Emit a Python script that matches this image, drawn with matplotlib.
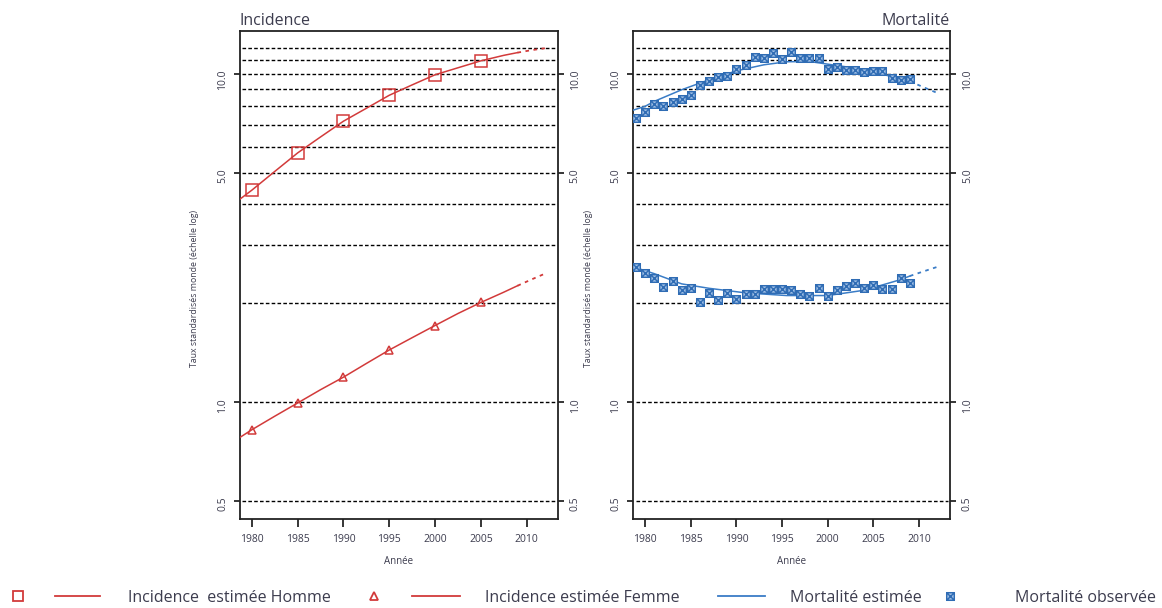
import matplotlib
matplotlib.use('Agg')
import matplotlib.pyplot as plt
from matplotlib.lines import Line2D
from matplotlib.legend_handler import HandlerTuple
from matplotlib.path import Path
from matplotlib.ticker import NullLocator

plt.rcParams['font.family'] = ['Open Sans', 'DejaVu Sans']

# ---- data ----
# incidence, estimated curve (solid part)
inc_years = [1978.7, 1980, 1982.5, 1985, 1987.5, 1990, 1992.5, 1995, 1997.5, 2000, 2002.5, 2005, 2007.5, 2009]
inc_homme = [4.15, 4.42, 5.04, 5.74, 6.42, 7.17, 7.85, 8.60, 9.25, 9.93, 10.43, 10.95, 11.38, 11.6]
inc_femme = [0.78, 0.823, 0.905, 0.993, 1.09, 1.19, 1.31, 1.44, 1.57, 1.71, 1.86, 2.01, 2.16, 2.26]
# incidence, projection (dotted part)
proj_years = [2009, 2010.5, 2012]
proj_homme = [11.6, 11.8, 11.96]
proj_femme = [2.26, 2.36, 2.46]
# markers every 5 years
mark_years = [1980, 1985, 1990, 1995, 2000, 2005]
mark_homme = [4.42, 5.74, 7.17, 8.60, 9.93, 10.95]
mark_femme = [0.823, 0.993, 1.19, 1.44, 1.71, 2.01]

# mortality, observed
obs_years = list(range(1979, 2010))
obs_homme = [7.34, 7.65, 8.11, 8.0, 8.21, 8.4, 8.63, 9.26, 9.48, 9.77, 9.88, 10.33, 10.65,
             11.28, 11.2, 11.55, 11.1, 11.68, 11.2, 11.2, 11.16, 10.35, 10.48, 10.28, 10.28,
             10.16, 10.21, 10.21, 9.70, 9.59, 9.64]
obs_femme = [2.57, 2.48, 2.39, 2.24, 2.34, 2.19, 2.23, 2.01, 2.15, 2.05, 2.15, 2.06, 2.14,
             2.14, 2.21, 2.21, 2.21, 2.20, 2.13, 2.11, 2.23, 2.11, 2.20, 2.26, 2.31,
             2.23, 2.28, 2.21, 2.21, 2.39, 2.30]
# mortality, estimated
mest_years_h = [1978.7, 1980, 1981, 1984, 1987, 1990, 1993, 1995.5, 1998, 2002, 2005.5, 2009]
mest_homme = [7.75, 7.96, 8.24, 8.94, 9.59, 10.21, 10.65, 10.88, 10.9, 10.5, 10.05, 9.48]
mest_years_f = [1978.7, 1981, 1984, 1987, 1991, 1995.5, 2000, 2004, 2008, 2009]
mest_femme = [2.58, 2.46, 2.29, 2.22, 2.15, 2.11, 2.11, 2.19, 2.36, 2.42]
mproj_years = [2009, 2010.5, 2012]
mproj_homme = [9.48, 9.1, 8.74]
mproj_femme = [2.42, 2.5, 2.58]

grid_levels = [0.5, 1, 2, 3, 4, 5, 6, 7, 8, 9, 10, 11, 12]
ytick_vals = [0.5, 1, 5, 10]
ytick_labels = ['0.5', '1.0', '5.0', '10.0']
xtick_vals = [1980, 1985, 1990, 1995, 2000, 2005, 2010]

red = '#d23a3a'
blue = '#3a7cc6'
txt = '#3c3c4e'
dots = (0, (2.0, 2.5))

# square with a cross, like R pch 7
box_x = Path([(-0.5, -0.5), (0.5, -0.5), (0.5, 0.5), (-0.5, 0.5), (-0.5, -0.5),
              (-0.5, -0.5), (0.5, 0.5), (-0.5, 0.5), (0.5, -0.5)],
             [Path.MOVETO, Path.LINETO, Path.LINETO, Path.LINETO, Path.CLOSEPOLY,
              Path.MOVETO, Path.LINETO, Path.MOVETO, Path.LINETO])
obs_style = dict(marker=box_x, markersize=5.5, markeredgecolor='#2f6cb4',
                 markerfacecolor='#9dbde4', markeredgewidth=1.0, linestyle='none')

fig = plt.figure(figsize=(11.62, 6.08), dpi=100)
ax1 = fig.add_axes([0.2065, 0.1464, 0.2735, 0.8026])
ax2 = fig.add_axes([0.545, 0.1464, 0.2726, 0.8026])


def style_axes(ax):
    ax.set_yscale('log')
    ax.set_ylim(0.44, 13.5)
    ax.set_xlim(1978.7, 2013.4)
    for lv in grid_levels:
        ax.axhline(lv, xmin=0.008, xmax=0.992, color='black', lw=1.0,
                   linestyle=(0, (2.6, 1.6)), zorder=1)
    ax.set_yticks(ytick_vals)
    ax.set_yticklabels(ytick_labels)
    ax.yaxis.set_minor_locator(NullLocator())
    ax.set_xticks(xtick_vals)
    ax.tick_params(axis='y', which='both', left=True, right=True, labelleft=True,
                   labelright=True, labelrotation=90, length=4.5, width=1.1,
                   pad=4, labelsize=7.5, labelcolor=txt)
    ax.tick_params(axis='x', length=5.5, width=1.1, pad=5, labelsize=7.5, labelcolor=txt)
    for s in ax.spines.values():
        s.set_linewidth(1.3)
        s.set_color('#222222')
    ax.set_xlabel('Année', fontsize=7, color=txt, labelpad=8)
    ax.set_ylabel('Taux standardisés monde (échelle log)', fontsize=6.3, color=txt)
    ax.yaxis.set_label_coords(-0.128, 0.473)


style_axes(ax1)
style_axes(ax2)

# incidence panel
ax1.plot(inc_years, inc_homme, color=red, lw=1.1, zorder=3)
ax1.plot(proj_years, proj_homme, color=red, lw=1.3, linestyle=dots, zorder=3)
ax1.plot(inc_years, inc_femme, color=red, lw=1.1, zorder=3)
ax1.plot(proj_years, proj_femme, color=red, lw=1.3, linestyle=dots, zorder=3)
ax1.plot(mark_years, mark_homme, linestyle='none', marker='s', markersize=8,
         markerfacecolor='none', markeredgecolor=red, markeredgewidth=1.1, zorder=4)
ax1.plot(mark_years, mark_femme, linestyle='none', marker='^', markersize=6,
         markerfacecolor='none', markeredgecolor=red, markeredgewidth=1.1, zorder=4)
ax1.set_title('Incidence', loc='left', fontsize=11.5, color=txt, pad=4)

# mortality panel
ax2.plot(mest_years_h, mest_homme, color=blue, lw=1.1, zorder=3)
ax2.plot(mproj_years, mproj_homme, color=blue, lw=1.3, linestyle=dots, zorder=3)
ax2.plot(mest_years_f, mest_femme, color=blue, lw=1.1, zorder=3)
ax2.plot(mproj_years, mproj_femme, color=blue, lw=1.3, linestyle=dots, zorder=3)
ax2.plot(obs_years, obs_homme, zorder=4, **obs_style)
ax2.plot(obs_years, obs_femme, zorder=4, **obs_style)
ax2.set_title('Mortalité', loc='right', fontsize=11.5, color=txt, pad=4)

# legend along the bottom, one small legend per entry
sq = Line2D([], [], linestyle='none', marker='s', markersize=7,
            markerfacecolor='none', markeredgecolor=red, markeredgewidth=1.3)
tri = Line2D([], [], linestyle='none', marker='^', markersize=6,
             markerfacecolor='none', markeredgecolor=red, markeredgewidth=1.3)
red_line = Line2D([], [], color=red, lw=1.3)
blue_line = Line2D([], [], color=blue, lw=1.3)
obs_mark = Line2D([], [], **obs_style)

entries = [
    ((sq, red_line), 'Incidence  estimée Homme', -4, 6.51, 1.75),
    ((tri, red_line), 'Incidence estimée Femme', 350, 6.89, 1.57),
    (blue_line, 'Mortalité estimée', 718, 2.94, 1.57),
    (obs_mark, 'Mortalité observée', 942, 1.0, 3.57),
]
for handle, label, xpix, hlen, tpad in entries:
    leg = fig.legend([handle], [label], loc='center left',
                     bbox_to_anchor=(xpix / 1162, 0.0164), frameon=False,
                     handlelength=hlen, handletextpad=tpad, borderpad=0,
                     borderaxespad=0, fontsize=11.5, numpoints=1,
                     handler_map={tuple: HandlerTuple(ndivide=None, pad=0.88)})
    for t in leg.get_texts():
        t.set_color(txt)

fig.savefig('out.png', dpi=100)
